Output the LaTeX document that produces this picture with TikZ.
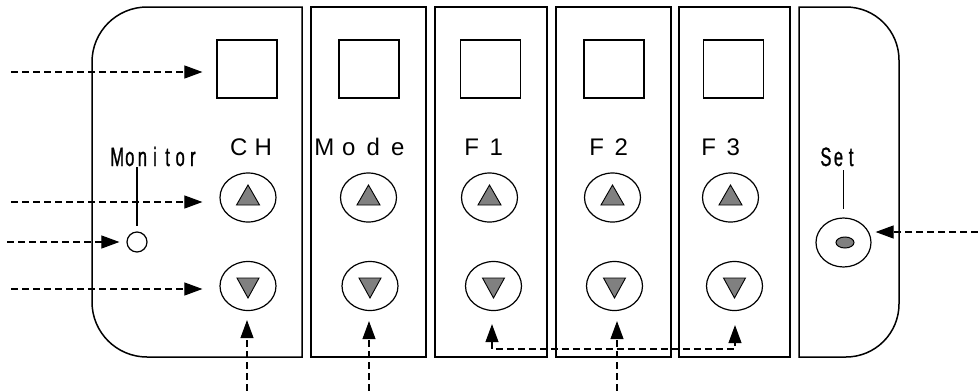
\documentclass[tikz,border=0pt]{standalone}
\usepackage{fontspec}
\setmainfont{Liberation Sans}
\newfontfamily\narrowfont[FakeStretch=0.62,FakeBold=1]{Liberation Sans}
\usetikzlibrary{arrows.meta,shapes.geometric}
\newcommand\zk[1]{\makebox[24.5pt]{#1}}
\newcommand\hk[1]{\makebox[12.6pt]{#1}}
\begin{document}
\begin{tikzpicture}[x=1pt,y=-1pt,
  panel/.style={line width=1.5pt},
  disp/.style={draw,line width=1.2pt,minimum width=60pt,minimum height=58pt,inner sep=0pt},
  btn/.style={draw,ellipse,line width=1.2pt,minimum width=56pt,minimum height=49pt,inner sep=0pt},
  tri/.style={draw,fill=gray,line width=0.9pt,line join=miter},
  lbl/.style={font=\fontsize{24}{24}\selectfont,inner sep=0pt,anchor=base},
  slbl/.style={font=\narrowfont\fontsize{26.5}{26.5}\selectfont,inner sep=0pt,anchor=base},
  thin/.style={line width=1.2pt},
  dashar/.style={line width=1.1pt,dash pattern=on 7pt off 4pt,-{Triangle[length=18pt,width=13pt]}},
]
\useasboundingbox (0,0) rectangle (978,391);
% panels
\draw[panel] (302,7) [rounded corners=55pt] -- (92,7) -- (92,357) [sharp corners] -- (302,357) -- cycle;
\draw[panel] (311,7) rectangle (426,357);
\draw[panel] (435,7) rectangle (547,357);
\draw[panel] (556,7) rectangle (671,357);
\draw[panel] (679,7) rectangle (790,357);
\draw[panel] (799,7) [rounded corners=53pt] -- (899,7) -- (899,357) [sharp corners] -- (799,357) -- cycle;
% columns
\foreach \n/\dx/\ux/\wx/\lx/\t in {
  1/247/248/248/251/{\zk{C}\zk{H}},
  2/369/368.5/370/361/{\zk{M}\zk{o}\zk{d}\zk{e}},
  3/490.5/489.5/493.5/484/{\zk{F}\zk{1}},
  4/614/612.5/614.5/609/{\zk{F}\zk{2}},
  5/733.5/730.5/734.5/721/{\zk{F}\zk{3}}}{
  \node[disp] (d\n) at (\dx,69) {};
  \node[lbl] (l\n) at (\lx,155) {\t};
  \node[btn] (u\n) at (\ux,197.5) {};
  \node[btn] (w\n) at (\wx,286) {};
  \draw[tri] ([shift={(-11.5,7.5)}]u\n.center) -- ([shift={(11.5,7.5)}]u\n.center) -- ([shift={(0,-12.5)}]u\n.center) -- cycle;
  \draw[tri] ([shift={(-11,-8)}]w\n.center) -- ([shift={(11,-8)}]w\n.center) -- ([shift={(0,12)}]w\n.center) -- cycle;
}
% monitor
\node[slbl] (mon) at (155,166) {\hk{M}\hk{o}\hk{n}\hk{i}\hk{t}\hk{o}\hk{r}};
\node[draw,circle,minimum size=20pt,inner sep=0pt,line width=1.2pt] (led) at (137,242) {};
\draw[thin] ([yshift=-1pt]led |- mon.base) -- ([yshift=5pt]led.north);
% set
\node[slbl] (setl) at (838.5,166) {\hk{S}\hk{e}\hk{t}};
\node[btn,minimum width=55pt] (setb) at (843.5,242.5) {};
\node[draw,ellipse,fill=gray,minimum width=18pt,minimum height=11pt,inner sep=0pt,line width=1pt] (setdot) at (845,242.5) {};
\draw[thin] ([yshift=-4pt]setb.north |- setl.base) -- ([yshift=8pt]setb.north);
% arrow ends
\coordinate (in1) at (11,72);
\coordinate (in2) at (11,202);
\coordinate (in3) at (7,242);
\coordinate (in4) at (11,289);
\coordinate (in5) at (978,232);
\coordinate (bt1) at (247,391);
\coordinate (bt2) at (369,391);
\coordinate (bt4) at (617,391);
\coordinate (j1) at (492,349);
\coordinate (j3) at (735,349);
\draw[dashar,shorten >=14pt] (in1) -- (in1 -| d1.west);
\draw[dashar,shorten >=17pt] (in2) -- (in2 -| u1.west);
\draw[dashar,shorten >=7pt] (in3) -- (in3 -| led.west);
\draw[dashar,shorten >=17pt] (in4) -- (in4 -| w1.west);
\draw[dashar,shorten >=4pt] (in5) -- (in5 -| setb.east);
\draw[dashar,shorten >=9pt] (bt1) -- (bt1 |- w1.south);
\draw[dashar,shorten >=10pt] (bt2) -- (bt2 |- w2.south);
\draw[dashar,shorten >=10pt] (bt4) -- (bt4 |- w4.south);
\draw[dashar,{Triangle[length=18pt,width=13pt]}-{Triangle[length=18pt,width=13pt]},shorten <=13pt,shorten >=14pt] (j1 |- w3.south) -- (j1) -- (j3) -- (j3 |- w5.south);
\end{tikzpicture}
\end{document}
